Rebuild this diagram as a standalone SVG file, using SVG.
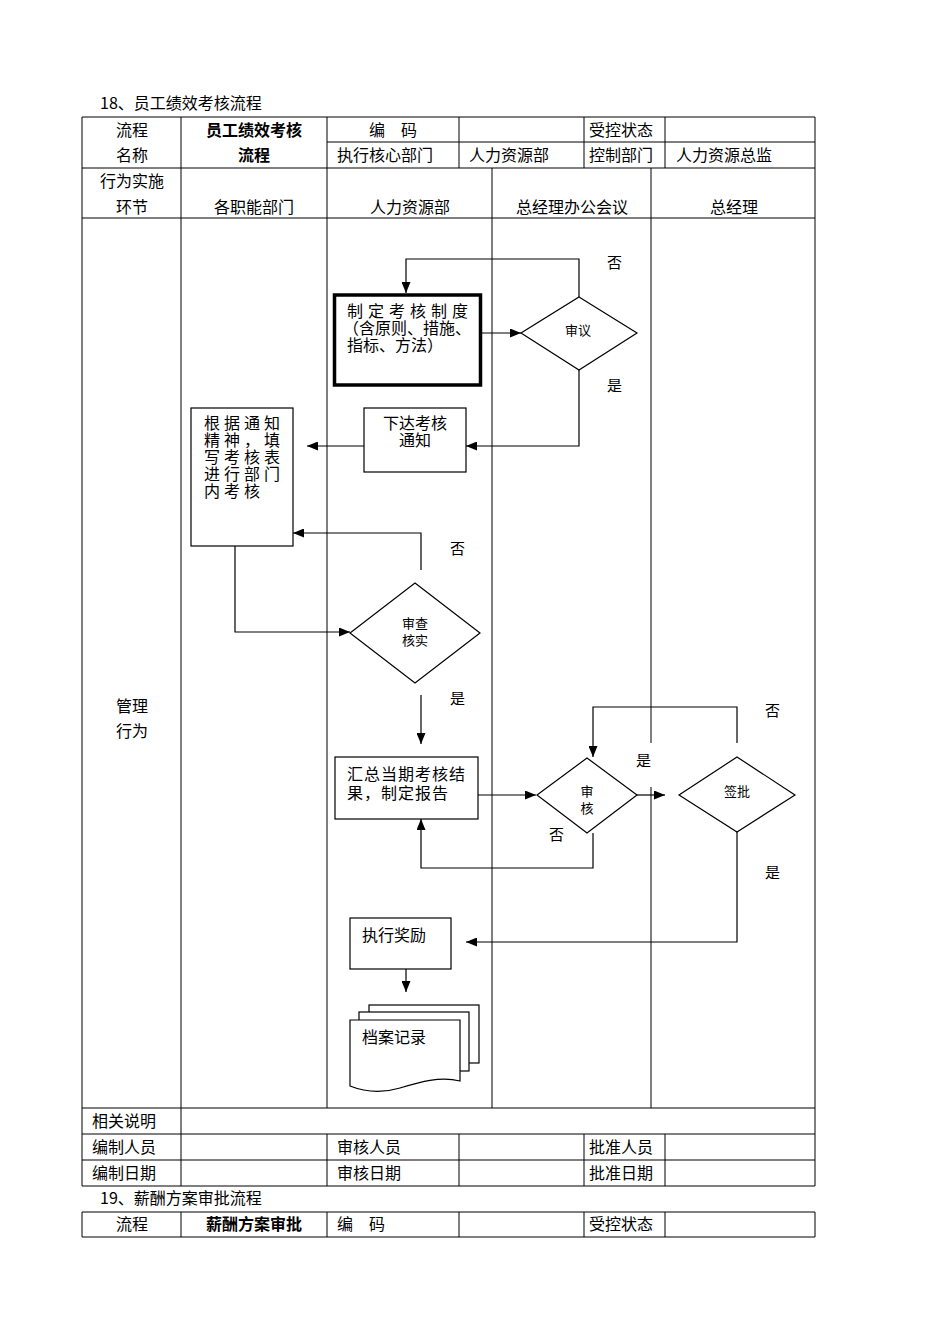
<svg xmlns="http://www.w3.org/2000/svg" width="950" height="1344" viewBox="0 0 950 1344">
<defs>
<marker id="arr" markerUnits="userSpaceOnUse" markerWidth="11" markerHeight="9" refX="11" refY="4.5" orient="auto">
<path d="M0,0 L11,4.5 L0,9 z" fill="#000"/>
</marker>
<style>
text{font-family:"Noto Sans CJK SC","Liberation Serif",sans-serif;font-size:16px;fill:#000}
.c{text-anchor:middle}
.b{font-weight:bold}
.s{font-size:13px}
.l{font-size:15px}
.tl{stroke:#000;stroke-width:1;fill:none}
.cn{stroke:#000;stroke-width:1.2;fill:none}
.cn.a{marker-end:url(#arr)}
.n{fill:#fff;stroke:#000;stroke-width:1.2}
</style>
</defs>
<rect width="950" height="1344" fill="#fff"/>

<g id="table">
<text x="100" y="109">18、员工绩效考核流程</text>
<path class="tl" d="M82,117 H815 M327,142 H815 M82,168 H815 M82,218 H815 M82,1108 H815 M82,1134 H815 M82,1160 H815 M82,1186 H815"/>
<path class="tl" d="M82,117 V1186 M815,117 V1186 M181,117 V1186 M327,117 V1108 M327,1134 V1186 M459,117 V168 M584,117 V168 M665,117 V168 M459,1134 V1186 M584,1134 V1186 M665,1134 V1186 M492,168 V1108 M651,168 V743 M651,787 V1108"/>
<text class="c" x="132" y="136">流程</text>
<text class="c" x="132" y="161">名称</text>
<text class="c b" x="254" y="136">员工绩效考核</text>
<text class="c b" x="254" y="161">流程</text>
<text x="369" y="136">编　码</text>
<text x="589" y="136">受控状态</text>
<text x="337" y="161">执行核心部门</text>
<text x="469" y="161">人力资源部</text>
<text x="589" y="161">控制部门</text>
<text x="676" y="161">人力资源总监</text>
<text class="c" x="132" y="187">行为实施</text>
<text class="c" x="132" y="213">环节</text>
<text class="c" x="254" y="213">各职能部门</text>
<text class="c" x="410" y="213">人力资源部</text>
<text class="c" x="572" y="213">总经理办公会议</text>
<text class="c" x="734" y="213">总经理</text>
<text class="c" x="132" y="712">管理</text>
<text class="c" x="132" y="737">行为</text>
<text x="92" y="1127">相关说明</text>
<text x="92" y="1153">编制人员</text>
<text x="337" y="1153">审核人员</text>
<text x="589" y="1153">批准人员</text>
<text x="92" y="1179">编制日期</text>
<text x="337" y="1179">审核日期</text>
<text x="589" y="1179">批准日期</text>
</g>

<g id="table2">
<text x="100" y="1204">19、薪酬方案审批流程</text>
<path class="tl" d="M82,1212 H815 M82,1237 H815 M82,1212 V1237 M181,1212 V1237 M327,1212 V1237 M459,1212 V1237 M584,1212 V1237 M665,1212 V1237 M815,1212 V1237"/>
<text class="c" x="132" y="1230">流程</text>
<text class="c b" x="254" y="1230">薪酬方案审批</text>
<text x="337" y="1230">编　码</text>
<text x="589" y="1230">受控状态</text>
</g>

<g id="connectors">
<path class="cn a" d="M482,333 H521"/>
<path class="cn a" d="M579,297 V259 H406 V293"/>
<path class="cn a" d="M579,370 V446 H466"/>
<path class="cn a" d="M364,446 H307"/>
<path class="cn a" d="M421,570 V533 H293"/>
<path class="cn a" d="M235,546 V632 H350"/>
<path class="cn a" d="M421,695 V744"/>
<path class="cn a" d="M478,795 H536"/>
<path class="cn a" d="M637,795 H665"/>
<path class="cn a" d="M737,743 V707 H593 V757"/>
<path class="cn a" d="M593,833 V868 H421 V819"/>
<path class="cn a" d="M737,832 V942 H466"/>
<path class="cn a" d="M406,969 V992"/>
<text class="l" x="607" y="268">否</text>
<text class="l" x="607" y="391">是</text>
<text class="l" x="450" y="554">否</text>
<text class="l" x="450" y="704">是</text>
<text class="l" x="765" y="716">否</text>
<text class="l" x="636" y="766">是</text>
<text class="l" x="549" y="840">否</text>
<text class="l" x="765" y="878">是</text>
</g>

<g id="n1">
<rect x="334.5" y="295" width="146" height="90" fill="#fff" stroke="#000" stroke-width="3.5"/>
<text x="347" y="317"><tspan letter-spacing="5">制定考核制度</tspan><tspan x="343" dy="17">（含原则、措施、</tspan><tspan x="347" dy="17">指标、方法）</tspan></text>
</g>

<g id="n2">
<path class="n" d="M579,297 L637,333 L579,370 L521,333 Z"/>
<text class="c s" x="578" y="335">审议</text>
</g>

<g id="n3">
<rect class="n" x="364" y="408" width="102" height="64"/>
<text x="383" y="429">下达考核<tspan x="399" dy="17">通知</tspan></text>
</g>

<g id="n4">
<rect class="n" x="191" y="408" width="102" height="138"/>
<text x="204" y="429" letter-spacing="4">根据通知<tspan x="204" dy="17">精神，填</tspan><tspan x="204" dy="17">写考核表</tspan><tspan x="204" dy="17">进行部门</tspan><tspan x="204" dy="17">内考核</tspan></text>
</g>

<g id="n5">
<path class="n" d="M415,583 L480,633 L415,683 L350,633 Z"/>
<text class="c s" x="415" y="628">审查<tspan x="415" dy="17">核实</tspan></text>
</g>

<g id="n6">
<rect class="n" x="335" y="757" width="143" height="62"/>
<text x="347" y="780" letter-spacing="1">汇总当期考核结<tspan x="347" dy="19">果，制定报告</tspan></text>
</g>

<g id="n7">
<path class="n" d="M587,758 L637,795 L587,833 L537,795 Z"/>
<text class="c s" x="587" y="796">审<tspan x="587" dy="17">核</tspan></text>
</g>

<g id="n8">
<path class="n" d="M737,757 L795,795 L737,832 L679,795 Z"/>
<text class="c s" x="737" y="796">签批</text>
</g>

<g id="n9">
<rect class="n" x="350" y="918" width="101" height="51"/>
<text x="362" y="941">执行奖励</text>
</g>

<g id="n10">
<rect class="n" x="369" y="1005" width="110" height="58"/>
<rect class="n" x="359" y="1012" width="110" height="59"/>
<path class="n" d="M350,1020 H460 V1081 C440,1076 420,1082 400,1088 C380,1094 365,1092 350,1086 Z"/>
<text x="362" y="1043">档案记录</text>
</g>
</svg>
